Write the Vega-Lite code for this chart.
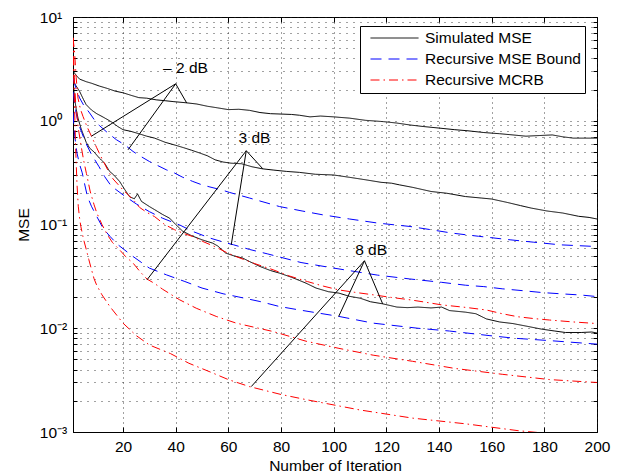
{
"$schema": "https://vega.github.io/schema/vega-lite/v6.json",
"width": 524, "height": 415,
"autosize": "none",
"padding": {"left": 73, "top": 17, "right": 28, "bottom": 44},
"background": "white",
"config": {
  "font": "Liberation Sans",
  "view": {"stroke": "#000", "strokeWidth": 1},
  "axis": {"domainColor": "#000", "tickColor": "#000", "tickWidth": 1, "labelColor": "#000", "labelFont": "Liberation Sans", "labelFontSize": 15.5, "titleFont": "Liberation Sans", "titleFontSize": 15.5, "titleFontWeight": "normal", "titleColor": "#000", "labelOverlap": false, "labelFlush": false, "gridColor": "#222", "gridOpacity": 0.85, "gridWidth": 1},
  "legend": {"symbolType": "stroke", "symbolSize": 2304, "symbolStrokeWidth": 1, "clipHeight": 16, "rowPadding": 4, "padding": 4, "symbolOffset": 6, "labelOffset": 6, "labelFontSize": 15.5, "labelFont": "Liberation Sans", "labelColor": "#000", "strokeColor": "#000", "fillColor": "#fff", "labelLimit": 400}
},
"datasets": {
"curves": [
{"s":"Simulated MSE","g":"-2","x":1,"y":3.02},{"s":"Simulated MSE","g":"-2","x":2,"y":2.78},{"s":"Simulated MSE","g":"-2","x":3.5,"y":2.52},{"s":"Simulated MSE","g":"-2","x":6,"y":2.38},{"s":"Simulated MSE","g":"-2","x":8,"y":2.3},{"s":"Simulated MSE","g":"-2","x":11,"y":2.16},{"s":"Simulated MSE","g":"-2","x":14,"y":2.05},{"s":"Simulated MSE","g":"-2","x":17,"y":1.93},{"s":"Simulated MSE","g":"-2","x":20,"y":1.86},{"s":"Simulated MSE","g":"-2","x":23,"y":1.76},{"s":"Simulated MSE","g":"-2","x":26,"y":1.67},{"s":"Simulated MSE","g":"-2","x":29,"y":1.65},{"s":"Simulated MSE","g":"-2","x":32.6,"y":1.59},{"s":"Simulated MSE","g":"-2","x":36,"y":1.56},{"s":"Simulated MSE","g":"-2","x":39,"y":1.53},{"s":"Simulated MSE","g":"-2","x":44,"y":1.49},{"s":"Simulated MSE","g":"-2","x":48,"y":1.45},{"s":"Simulated MSE","g":"-2","x":52,"y":1.38},{"s":"Simulated MSE","g":"-2","x":56,"y":1.33},{"s":"Simulated MSE","g":"-2","x":60,"y":1.28},{"s":"Simulated MSE","g":"-2","x":64,"y":1.29},{"s":"Simulated MSE","g":"-2","x":68,"y":1.26},{"s":"Simulated MSE","g":"-2","x":72,"y":1.2},{"s":"Simulated MSE","g":"-2","x":76,"y":1.17},{"s":"Simulated MSE","g":"-2","x":80,"y":1.16},{"s":"Simulated MSE","g":"-2","x":84,"y":1.15},{"s":"Simulated MSE","g":"-2","x":87,"y":1.13},{"s":"Simulated MSE","g":"-2","x":91,"y":1.09},{"s":"Simulated MSE","g":"-2","x":95,"y":1.11},{"s":"Simulated MSE","g":"-2","x":100,"y":1.09},{"s":"Simulated MSE","g":"-2","x":106,"y":1.06},{"s":"Simulated MSE","g":"-2","x":112,"y":1.01},{"s":"Simulated MSE","g":"-2","x":119,"y":0.98},{"s":"Simulated MSE","g":"-2","x":124,"y":0.95},{"s":"Simulated MSE","g":"-2","x":129,"y":0.91},{"s":"Simulated MSE","g":"-2","x":134,"y":0.88},{"s":"Simulated MSE","g":"-2","x":140,"y":0.85},{"s":"Simulated MSE","g":"-2","x":146,"y":0.82},{"s":"Simulated MSE","g":"-2","x":151,"y":0.8},{"s":"Simulated MSE","g":"-2","x":157,"y":0.77},{"s":"Simulated MSE","g":"-2","x":163,"y":0.75},{"s":"Simulated MSE","g":"-2","x":168,"y":0.73},{"s":"Simulated MSE","g":"-2","x":173,"y":0.71},{"s":"Simulated MSE","g":"-2","x":178,"y":0.72},{"s":"Simulated MSE","g":"-2","x":183,"y":0.73},{"s":"Simulated MSE","g":"-2","x":187,"y":0.7},{"s":"Simulated MSE","g":"-2","x":191,"y":0.68},{"s":"Simulated MSE","g":"-2","x":196,"y":0.68},{"s":"Simulated MSE","g":"-2","x":200,"y":0.68},
{"s":"Simulated MSE","g":"3","x":1,"y":2.48},{"s":"Simulated MSE","g":"3","x":2,"y":2.2},{"s":"Simulated MSE","g":"3","x":3.5,"y":1.92},{"s":"Simulated MSE","g":"3","x":5,"y":1.6},{"s":"Simulated MSE","g":"3","x":6,"y":1.43},{"s":"Simulated MSE","g":"3","x":8,"y":1.27},{"s":"Simulated MSE","g":"3","x":10,"y":1.17},{"s":"Simulated MSE","g":"3","x":12,"y":1.1},{"s":"Simulated MSE","g":"3","x":14,"y":1.03},{"s":"Simulated MSE","g":"3","x":16,"y":0.96},{"s":"Simulated MSE","g":"3","x":18,"y":0.88},{"s":"Simulated MSE","g":"3","x":20,"y":0.82},{"s":"Simulated MSE","g":"3","x":23,"y":0.79},{"s":"Simulated MSE","g":"3","x":26,"y":0.75},{"s":"Simulated MSE","g":"3","x":29,"y":0.71},{"s":"Simulated MSE","g":"3","x":32,"y":0.68},{"s":"Simulated MSE","g":"3","x":36,"y":0.62},{"s":"Simulated MSE","g":"3","x":40,"y":0.58},{"s":"Simulated MSE","g":"3","x":43,"y":0.55},{"s":"Simulated MSE","g":"3","x":46,"y":0.52},{"s":"Simulated MSE","g":"3","x":49,"y":0.49},{"s":"Simulated MSE","g":"3","x":52,"y":0.46},{"s":"Simulated MSE","g":"3","x":55,"y":0.42},{"s":"Simulated MSE","g":"3","x":58,"y":0.4},{"s":"Simulated MSE","g":"3","x":61,"y":0.39},{"s":"Simulated MSE","g":"3","x":65,"y":0.385},{"s":"Simulated MSE","g":"3","x":69,"y":0.36},{"s":"Simulated MSE","g":"3","x":73,"y":0.344},{"s":"Simulated MSE","g":"3","x":77,"y":0.335},{"s":"Simulated MSE","g":"3","x":82,"y":0.325},{"s":"Simulated MSE","g":"3","x":87,"y":0.318},{"s":"Simulated MSE","g":"3","x":93,"y":0.305},{"s":"Simulated MSE","g":"3","x":100,"y":0.3},{"s":"Simulated MSE","g":"3","x":106,"y":0.285},{"s":"Simulated MSE","g":"3","x":112,"y":0.27},{"s":"Simulated MSE","g":"3","x":118,"y":0.255},{"s":"Simulated MSE","g":"3","x":122,"y":0.25},{"s":"Simulated MSE","g":"3","x":125,"y":0.241},{"s":"Simulated MSE","g":"3","x":130,"y":0.228},{"s":"Simulated MSE","g":"3","x":137,"y":0.208},{"s":"Simulated MSE","g":"3","x":143,"y":0.2},{"s":"Simulated MSE","g":"3","x":150,"y":0.186},{"s":"Simulated MSE","g":"3","x":156,"y":0.18},{"s":"Simulated MSE","g":"3","x":160,"y":0.176},{"s":"Simulated MSE","g":"3","x":166,"y":0.163},{"s":"Simulated MSE","g":"3","x":171,"y":0.152},{"s":"Simulated MSE","g":"3","x":175,"y":0.144},{"s":"Simulated MSE","g":"3","x":181,"y":0.135},{"s":"Simulated MSE","g":"3","x":187,"y":0.129},{"s":"Simulated MSE","g":"3","x":193,"y":0.12},{"s":"Simulated MSE","g":"3","x":197,"y":0.117},{"s":"Simulated MSE","g":"3","x":200,"y":0.113},
{"s":"Simulated MSE","g":"8","x":1,"y":2.39},{"s":"Simulated MSE","g":"8","x":1.6,"y":1.66},{"s":"Simulated MSE","g":"8","x":2.2,"y":1.3},{"s":"Simulated MSE","g":"8","x":2.9,"y":1.06},{"s":"Simulated MSE","g":"8","x":4,"y":0.85},{"s":"Simulated MSE","g":"8","x":4.8,"y":0.75},{"s":"Simulated MSE","g":"8","x":6,"y":0.62},{"s":"Simulated MSE","g":"8","x":7.3,"y":0.546},{"s":"Simulated MSE","g":"8","x":9,"y":0.5},{"s":"Simulated MSE","g":"8","x":11,"y":0.437},{"s":"Simulated MSE","g":"8","x":13,"y":0.39},{"s":"Simulated MSE","g":"8","x":14.9,"y":0.325},{"s":"Simulated MSE","g":"8","x":16.5,"y":0.3},{"s":"Simulated MSE","g":"8","x":18.7,"y":0.26},{"s":"Simulated MSE","g":"8","x":20.5,"y":0.22},{"s":"Simulated MSE","g":"8","x":22.5,"y":0.185},{"s":"Simulated MSE","g":"8","x":24.3,"y":0.177},{"s":"Simulated MSE","g":"8","x":25.5,"y":0.197},{"s":"Simulated MSE","g":"8","x":27,"y":0.167},{"s":"Simulated MSE","g":"8","x":30,"y":0.149},{"s":"Simulated MSE","g":"8","x":32,"y":0.139},{"s":"Simulated MSE","g":"8","x":35,"y":0.125},{"s":"Simulated MSE","g":"8","x":37.7,"y":0.115},{"s":"Simulated MSE","g":"8","x":40,"y":0.1},{"s":"Simulated MSE","g":"8","x":42.7,"y":0.086},{"s":"Simulated MSE","g":"8","x":46,"y":0.078},{"s":"Simulated MSE","g":"8","x":50,"y":0.0712},{"s":"Simulated MSE","g":"8","x":54,"y":0.0662},{"s":"Simulated MSE","g":"8","x":56,"y":0.062},{"s":"Simulated MSE","g":"8","x":59,"y":0.053},{"s":"Simulated MSE","g":"8","x":62,"y":0.05},{"s":"Simulated MSE","g":"8","x":65.5,"y":0.0474},{"s":"Simulated MSE","g":"8","x":68,"y":0.044},{"s":"Simulated MSE","g":"8","x":72,"y":0.0394},{"s":"Simulated MSE","g":"8","x":76,"y":0.036},{"s":"Simulated MSE","g":"8","x":79.4,"y":0.034},{"s":"Simulated MSE","g":"8","x":84,"y":0.031},{"s":"Simulated MSE","g":"8","x":89.5,"y":0.0272},{"s":"Simulated MSE","g":"8","x":93.3,"y":0.0244},{"s":"Simulated MSE","g":"8","x":98,"y":0.0225},{"s":"Simulated MSE","g":"8","x":102,"y":0.0218},{"s":"Simulated MSE","g":"8","x":106,"y":0.0203},{"s":"Simulated MSE","g":"8","x":110,"y":0.0195},{"s":"Simulated MSE","g":"8","x":114,"y":0.018},{"s":"Simulated MSE","g":"8","x":118.6,"y":0.0172},{"s":"Simulated MSE","g":"8","x":124,"y":0.016},{"s":"Simulated MSE","g":"8","x":128,"y":0.0158},{"s":"Simulated MSE","g":"8","x":132,"y":0.016},{"s":"Simulated MSE","g":"8","x":137,"y":0.0157},{"s":"Simulated MSE","g":"8","x":141,"y":0.016},{"s":"Simulated MSE","g":"8","x":144,"y":0.0148},{"s":"Simulated MSE","g":"8","x":150,"y":0.0143},{"s":"Simulated MSE","g":"8","x":154,"y":0.0138},{"s":"Simulated MSE","g":"8","x":158,"y":0.0123},{"s":"Simulated MSE","g":"8","x":163,"y":0.0115},{"s":"Simulated MSE","g":"8","x":168,"y":0.0111},{"s":"Simulated MSE","g":"8","x":173,"y":0.0105},{"s":"Simulated MSE","g":"8","x":179,"y":0.0098},{"s":"Simulated MSE","g":"8","x":184,"y":0.0094},{"s":"Simulated MSE","g":"8","x":188,"y":0.0091},{"s":"Simulated MSE","g":"8","x":194,"y":0.0091},{"s":"Simulated MSE","g":"8","x":198,"y":0.0092},{"s":"Simulated MSE","g":"8","x":200,"y":0.009},
{"s":"Recursive MSE Bound","g":"-2","x":1,"y":2.58},{"s":"Recursive MSE Bound","g":"-2","x":2,"y":2.1},{"s":"Recursive MSE Bound","g":"-2","x":3.5,"y":1.66},{"s":"Recursive MSE Bound","g":"-2","x":5,"y":1.42},{"s":"Recursive MSE Bound","g":"-2","x":7.3,"y":1.19},{"s":"Recursive MSE Bound","g":"-2","x":9,"y":1.03},{"s":"Recursive MSE Bound","g":"-2","x":11,"y":0.9},{"s":"Recursive MSE Bound","g":"-2","x":14.3,"y":0.76},{"s":"Recursive MSE Bound","g":"-2","x":17.5,"y":0.656},{"s":"Recursive MSE Bound","g":"-2","x":20.6,"y":0.587},{"s":"Recursive MSE Bound","g":"-2","x":23.8,"y":0.506},{"s":"Recursive MSE Bound","g":"-2","x":26.3,"y":0.46},{"s":"Recursive MSE Bound","g":"-2","x":30,"y":0.405},{"s":"Recursive MSE Bound","g":"-2","x":32.6,"y":0.376},{"s":"Recursive MSE Bound","g":"-2","x":36.4,"y":0.337},{"s":"Recursive MSE Bound","g":"-2","x":39.6,"y":0.313},{"s":"Recursive MSE Bound","g":"-2","x":42.7,"y":0.285},{"s":"Recursive MSE Bound","g":"-2","x":46.5,"y":0.26},{"s":"Recursive MSE Bound","g":"-2","x":50,"y":0.241},{"s":"Recursive MSE Bound","g":"-2","x":53,"y":0.23},{"s":"Recursive MSE Bound","g":"-2","x":57.3,"y":0.216},{"s":"Recursive MSE Bound","g":"-2","x":60.4,"y":0.204},{"s":"Recursive MSE Bound","g":"-2","x":68,"y":0.18},{"s":"Recursive MSE Bound","g":"-2","x":79.4,"y":0.149},{"s":"Recursive MSE Bound","g":"-2","x":88,"y":0.135},{"s":"Recursive MSE Bound","g":"-2","x":95.8,"y":0.124},{"s":"Recursive MSE Bound","g":"-2","x":106,"y":0.113},{"s":"Recursive MSE Bound","g":"-2","x":117,"y":0.103},{"s":"Recursive MSE Bound","g":"-2","x":129,"y":0.0957},{"s":"Recursive MSE Bound","g":"-2","x":137,"y":0.089},{"s":"Recursive MSE Bound","g":"-2","x":145,"y":0.0826},{"s":"Recursive MSE Bound","g":"-2","x":155,"y":0.077},{"s":"Recursive MSE Bound","g":"-2","x":167,"y":0.0712},{"s":"Recursive MSE Bound","g":"-2","x":176,"y":0.0675},{"s":"Recursive MSE Bound","g":"-2","x":186,"y":0.0637},{"s":"Recursive MSE Bound","g":"-2","x":193,"y":0.0625},{"s":"Recursive MSE Bound","g":"-2","x":200,"y":0.0613},
{"s":"Recursive MSE Bound","g":"3","x":1,"y":1.9},{"s":"Recursive MSE Bound","g":"3","x":2,"y":1.25},{"s":"Recursive MSE Bound","g":"3","x":3,"y":0.95},{"s":"Recursive MSE Bound","g":"3","x":4.3,"y":0.77},{"s":"Recursive MSE Bound","g":"3","x":6,"y":0.6},{"s":"Recursive MSE Bound","g":"3","x":7.9,"y":0.48},{"s":"Recursive MSE Bound","g":"3","x":10.9,"y":0.36},{"s":"Recursive MSE Bound","g":"3","x":13,"y":0.29},{"s":"Recursive MSE Bound","g":"3","x":15.5,"y":0.235},{"s":"Recursive MSE Bound","g":"3","x":20,"y":0.193},{"s":"Recursive MSE Bound","g":"3","x":25,"y":0.158},{"s":"Recursive MSE Bound","g":"3","x":30,"y":0.133},{"s":"Recursive MSE Bound","g":"3","x":35,"y":0.115},{"s":"Recursive MSE Bound","g":"3","x":41.5,"y":0.099},{"s":"Recursive MSE Bound","g":"3","x":46.5,"y":0.0857},{"s":"Recursive MSE Bound","g":"3","x":53,"y":0.074},{"s":"Recursive MSE Bound","g":"3","x":59.6,"y":0.066},{"s":"Recursive MSE Bound","g":"3","x":62,"y":0.0637},{"s":"Recursive MSE Bound","g":"3","x":68,"y":0.0575},{"s":"Recursive MSE Bound","g":"3","x":75,"y":0.052},{"s":"Recursive MSE Bound","g":"3","x":87.6,"y":0.043},{"s":"Recursive MSE Bound","g":"3","x":100,"y":0.038},{"s":"Recursive MSE Bound","g":"3","x":116.7,"y":0.0325},{"s":"Recursive MSE Bound","g":"3","x":128.7,"y":0.0299},{"s":"Recursive MSE Bound","g":"3","x":141,"y":0.0277},{"s":"Recursive MSE Bound","g":"3","x":150,"y":0.026},{"s":"Recursive MSE Bound","g":"3","x":157,"y":0.0252},{"s":"Recursive MSE Bound","g":"3","x":164,"y":0.024},{"s":"Recursive MSE Bound","g":"3","x":172,"y":0.023},{"s":"Recursive MSE Bound","g":"3","x":179,"y":0.0221},{"s":"Recursive MSE Bound","g":"3","x":186,"y":0.0215},{"s":"Recursive MSE Bound","g":"3","x":194,"y":0.0209},{"s":"Recursive MSE Bound","g":"3","x":200,"y":0.0202},
{"s":"Recursive MSE Bound","g":"8","x":1,"y":1.2},{"s":"Recursive MSE Bound","g":"8","x":1.6,"y":0.73},{"s":"Recursive MSE Bound","g":"8","x":2.5,"y":0.49},{"s":"Recursive MSE Bound","g":"8","x":3.5,"y":0.38},{"s":"Recursive MSE Bound","g":"8","x":4.5,"y":0.315},{"s":"Recursive MSE Bound","g":"8","x":5.5,"y":0.24},{"s":"Recursive MSE Bound","g":"8","x":6.5,"y":0.185},{"s":"Recursive MSE Bound","g":"8","x":8,"y":0.15},{"s":"Recursive MSE Bound","g":"8","x":9.7,"y":0.124},{"s":"Recursive MSE Bound","g":"8","x":12.4,"y":0.092},{"s":"Recursive MSE Bound","g":"8","x":15,"y":0.077},{"s":"Recursive MSE Bound","g":"8","x":18,"y":0.064},{"s":"Recursive MSE Bound","g":"8","x":23.4,"y":0.05},{"s":"Recursive MSE Bound","g":"8","x":30,"y":0.038},{"s":"Recursive MSE Bound","g":"8","x":36.5,"y":0.0327},{"s":"Recursive MSE Bound","g":"8","x":43.5,"y":0.0282},{"s":"Recursive MSE Bound","g":"8","x":50,"y":0.0244},{"s":"Recursive MSE Bound","g":"8","x":58,"y":0.0215},{"s":"Recursive MSE Bound","g":"8","x":64,"y":0.02},{"s":"Recursive MSE Bound","g":"8","x":72,"y":0.0181},{"s":"Recursive MSE Bound","g":"8","x":79.4,"y":0.0162},{"s":"Recursive MSE Bound","g":"8","x":87,"y":0.015},{"s":"Recursive MSE Bound","g":"8","x":102,"y":0.013},{"s":"Recursive MSE Bound","g":"8","x":115,"y":0.0112},{"s":"Recursive MSE Bound","g":"8","x":132,"y":0.01},{"s":"Recursive MSE Bound","g":"8","x":144,"y":0.0094},{"s":"Recursive MSE Bound","g":"8","x":159,"y":0.0085},{"s":"Recursive MSE Bound","g":"8","x":169,"y":0.008},{"s":"Recursive MSE Bound","g":"8","x":182,"y":0.0076},{"s":"Recursive MSE Bound","g":"8","x":200,"y":0.00703},
{"s":"Recursive MCRB","g":"-2","x":1,"y":6.3},{"s":"Recursive MCRB","g":"-2","x":1.6,"y":4.6},{"s":"Recursive MCRB","g":"-2","x":2.2,"y":2.6},{"s":"Recursive MCRB","g":"-2","x":2.9,"y":1.65},{"s":"Recursive MCRB","g":"-2","x":3.8,"y":1.3},{"s":"Recursive MCRB","g":"-2","x":4.8,"y":1.1},{"s":"Recursive MCRB","g":"-2","x":6.3,"y":0.88},{"s":"Recursive MCRB","g":"-2","x":8,"y":0.71},{"s":"Recursive MCRB","g":"-2","x":10,"y":0.55},{"s":"Recursive MCRB","g":"-2","x":12,"y":0.43},{"s":"Recursive MCRB","g":"-2","x":14.9,"y":0.31},{"s":"Recursive MCRB","g":"-2","x":16.2,"y":0.275},{"s":"Recursive MCRB","g":"-2","x":18,"y":0.245},{"s":"Recursive MCRB","g":"-2","x":20,"y":0.215},{"s":"Recursive MCRB","g":"-2","x":22,"y":0.193},{"s":"Recursive MCRB","g":"-2","x":24.4,"y":0.167},{"s":"Recursive MCRB","g":"-2","x":26.3,"y":0.146},{"s":"Recursive MCRB","g":"-2","x":29,"y":0.131},{"s":"Recursive MCRB","g":"-2","x":32,"y":0.119},{"s":"Recursive MCRB","g":"-2","x":35.8,"y":0.1},{"s":"Recursive MCRB","g":"-2","x":39.6,"y":0.089},{"s":"Recursive MCRB","g":"-2","x":43,"y":0.082},{"s":"Recursive MCRB","g":"-2","x":46.5,"y":0.0766},{"s":"Recursive MCRB","g":"-2","x":50.3,"y":0.0686},{"s":"Recursive MCRB","g":"-2","x":54.8,"y":0.0613},{"s":"Recursive MCRB","g":"-2","x":59.8,"y":0.053},{"s":"Recursive MCRB","g":"-2","x":63,"y":0.049},{"s":"Recursive MCRB","g":"-2","x":70,"y":0.042},{"s":"Recursive MCRB","g":"-2","x":77,"y":0.0366},{"s":"Recursive MCRB","g":"-2","x":83,"y":0.032},{"s":"Recursive MCRB","g":"-2","x":90,"y":0.0282},{"s":"Recursive MCRB","g":"-2","x":96,"y":0.0255},{"s":"Recursive MCRB","g":"-2","x":102,"y":0.0234},{"s":"Recursive MCRB","g":"-2","x":108,"y":0.0222},{"s":"Recursive MCRB","g":"-2","x":115,"y":0.021},{"s":"Recursive MCRB","g":"-2","x":122,"y":0.0198},{"s":"Recursive MCRB","g":"-2","x":129,"y":0.0188},{"s":"Recursive MCRB","g":"-2","x":135,"y":0.0178},{"s":"Recursive MCRB","g":"-2","x":141,"y":0.0168},{"s":"Recursive MCRB","g":"-2","x":150,"y":0.0159},{"s":"Recursive MCRB","g":"-2","x":158,"y":0.015},{"s":"Recursive MCRB","g":"-2","x":164,"y":0.0138},{"s":"Recursive MCRB","g":"-2","x":170,"y":0.0129},{"s":"Recursive MCRB","g":"-2","x":176,"y":0.0124},{"s":"Recursive MCRB","g":"-2","x":182,"y":0.012},{"s":"Recursive MCRB","g":"-2","x":191,"y":0.0115},{"s":"Recursive MCRB","g":"-2","x":200,"y":0.0111},
{"s":"Recursive MCRB","g":"3","x":1,"y":6.3},{"s":"Recursive MCRB","g":"3","x":1.5,"y":2.6},{"s":"Recursive MCRB","g":"3","x":2,"y":1.5},{"s":"Recursive MCRB","g":"3","x":3,"y":0.85},{"s":"Recursive MCRB","g":"3","x":4.2,"y":0.55},{"s":"Recursive MCRB","g":"3","x":5,"y":0.42},{"s":"Recursive MCRB","g":"3","x":6.1,"y":0.31},{"s":"Recursive MCRB","g":"3","x":7.5,"y":0.21},{"s":"Recursive MCRB","g":"3","x":9,"y":0.155},{"s":"Recursive MCRB","g":"3","x":10,"y":0.13},{"s":"Recursive MCRB","g":"3","x":12,"y":0.1},{"s":"Recursive MCRB","g":"3","x":14,"y":0.08},{"s":"Recursive MCRB","g":"3","x":16,"y":0.067},{"s":"Recursive MCRB","g":"3","x":18.7,"y":0.057},{"s":"Recursive MCRB","g":"3","x":21,"y":0.049},{"s":"Recursive MCRB","g":"3","x":23.8,"y":0.0425},{"s":"Recursive MCRB","g":"3","x":26.5,"y":0.035},{"s":"Recursive MCRB","g":"3","x":29.1,"y":0.0298},{"s":"Recursive MCRB","g":"3","x":32,"y":0.027},{"s":"Recursive MCRB","g":"3","x":35,"y":0.0238},{"s":"Recursive MCRB","g":"3","x":41.5,"y":0.0188},{"s":"Recursive MCRB","g":"3","x":47.8,"y":0.0156},{"s":"Recursive MCRB","g":"3","x":55.4,"y":0.013},{"s":"Recursive MCRB","g":"3","x":63,"y":0.0112},{"s":"Recursive MCRB","g":"3","x":70,"y":0.0102},{"s":"Recursive MCRB","g":"3","x":77,"y":0.0093},{"s":"Recursive MCRB","g":"3","x":89.5,"y":0.0075},{"s":"Recursive MCRB","g":"3","x":102,"y":0.0064},{"s":"Recursive MCRB","g":"3","x":115,"y":0.0055},{"s":"Recursive MCRB","g":"3","x":130,"y":0.0048},{"s":"Recursive MCRB","g":"3","x":146,"y":0.0041},{"s":"Recursive MCRB","g":"3","x":164,"y":0.0036},{"s":"Recursive MCRB","g":"3","x":182,"y":0.0032},{"s":"Recursive MCRB","g":"3","x":200,"y":0.003},
{"s":"Recursive MCRB","g":"8","x":1,"y":6.3},{"s":"Recursive MCRB","g":"8","x":1.5,"y":1.6},{"s":"Recursive MCRB","g":"8","x":2,"y":0.55},{"s":"Recursive MCRB","g":"8","x":2.5,"y":0.25},{"s":"Recursive MCRB","g":"8","x":3,"y":0.15},{"s":"Recursive MCRB","g":"8","x":3.5,"y":0.115},{"s":"Recursive MCRB","g":"8","x":4,"y":0.095},{"s":"Recursive MCRB","g":"8","x":5,"y":0.072},{"s":"Recursive MCRB","g":"8","x":6,"y":0.058},{"s":"Recursive MCRB","g":"8","x":7,"y":0.046},{"s":"Recursive MCRB","g":"8","x":8,"y":0.037},{"s":"Recursive MCRB","g":"8","x":9,"y":0.03},{"s":"Recursive MCRB","g":"8","x":10,"y":0.026},{"s":"Recursive MCRB","g":"8","x":12,"y":0.021},{"s":"Recursive MCRB","g":"8","x":15,"y":0.0162},{"s":"Recursive MCRB","g":"8","x":20,"y":0.0112},{"s":"Recursive MCRB","g":"8","x":25,"y":0.0085},{"s":"Recursive MCRB","g":"8","x":30,"y":0.0069},{"s":"Recursive MCRB","g":"8","x":38,"y":0.0057},{"s":"Recursive MCRB","g":"8","x":45,"y":0.0046},{"s":"Recursive MCRB","g":"8","x":53,"y":0.0038},{"s":"Recursive MCRB","g":"8","x":60,"y":0.0032},{"s":"Recursive MCRB","g":"8","x":68,"y":0.00274},{"s":"Recursive MCRB","g":"8","x":80,"y":0.0023},{"s":"Recursive MCRB","g":"8","x":90,"y":0.00204},{"s":"Recursive MCRB","g":"8","x":110,"y":0.00163},{"s":"Recursive MCRB","g":"8","x":130,"y":0.00136},{"s":"Recursive MCRB","g":"8","x":150,"y":0.0012},{"s":"Recursive MCRB","g":"8","x":170,"y":0.00103},{"s":"Recursive MCRB","g":"8","x":185,"y":0.00095},{"s":"Recursive MCRB","g":"8","x":200,"y":0.00088}
],
"ann": [
{"a":"-2","x1":40,"y1":2.27,"x2":44.2,"y2":1.48},{"a":"-2","x1":40,"y1":2.27,"x2":8,"y2":0.71},{"a":"-2","x1":40,"y1":2.27,"x2":21.9,"y2":0.525},
{"a":"3","x1":66.8,"y1":0.514,"x2":73.1,"y2":0.344},{"a":"3","x1":66.8,"y1":0.514,"x2":61.1,"y2":0.0637},{"a":"3","x1":66.8,"y1":0.514,"x2":29.1,"y2":0.0293},
{"a":"8","x1":111.7,"y1":0.0447,"x2":118.6,"y2":0.0172},{"a":"8","x1":111.7,"y1":0.0447,"x2":101.9,"y2":0.013},{"a":"8","x1":111.7,"y1":0.0447,"x2":68.7,"y2":0.00274}
],
"labels": [
{"t":"– 2 dB","x":43.7,"y":2.88},{"t":"3 dB","x":69.9,"y":0.61},{"t":"8 dB","x":114.2,"y":0.0511}
]
},
"layer": [
{
 "data": {"name": "curves"},
 "mark": {"type": "line", "strokeWidth": 1, "clip": true},
 "encoding": {
  "x": {"field": "x", "type": "quantitative", "scale": {"domain": [1, 200], "nice": false, "zero": false},
        "axis": {"orient": "bottom", "values": [20,40,60,80,100,120,140,160,180,200], "grid": true, "gridDash": [1,4], "tickSize": -5, "labelPadding": 12, "title": "Number of Iteration", "titleY": 38, "titleBaseline": "alphabetic"}},
  "y": {"field": "y", "type": "quantitative", "scale": {"type": "log", "domain": [0.001, 10], "nice": false},
        "axis": {"orient": "left", "values": [0.001,0.002,0.003,0.004,0.005,0.006,0.007,0.008,0.009,0.01,0.02,0.03,0.04,0.05,0.06,0.07,0.08,0.09,0.1,0.2,0.3,0.4,0.5,0.6,0.7,0.8,0.9,1,2,3,4,5,6,7,8,9,10],
                 "grid": true, "gridDash": [1,6], "tickSize": -4, "labelAlign": "left", "labelBaseline": "middle", "labelPadding": 37.7,
                 "labelExpr": "datum.value == 10 ? '10¹' : datum.value == 1 ? '10⁰' : datum.value == 0.1 ? '10⁻¹' : datum.value == 0.01 ? '10⁻²' : datum.value == 0.001 ? '10⁻³' : ''",
                 "title": "MSE", "titleX": -45, "titleY": 207.5, "titleAngle": -90, "titleBaseline": "alphabetic", "titleAlign": "center"}},
  "color": {"field": "s", "type": "nominal", "scale": {"domain": ["Simulated MSE", "Recursive MSE Bound", "Recursive MCRB"], "range": ["#000000", "#0000ff", "#ff0000"]},
            "legend": {"title": null, "orient": "none", "legendX": 287, "legendY": 9}},
  "strokeDash": {"field": "s", "type": "nominal", "scale": {"domain": ["Simulated MSE", "Recursive MSE Bound", "Recursive MCRB"], "range": [[1,0],[11,7],[9,4,1.5,4]]},
            "legend": {"title": null, "orient": "none", "legendX": 287, "legendY": 9}},
  "detail": {"field": "g", "type": "nominal"},
  "order": {"field": "x", "type": "quantitative"}
 }
},
{
 "data": {"name": "ann"},
 "mark": {"type": "rule", "color": "#000", "strokeWidth": 1},
 "encoding": {
  "x": {"field": "x1", "type": "quantitative", "scale": {"domain": [1, 200], "nice": false, "zero": false},
        "axis": {"orient": "top", "values": [20,40,60,80,100,120,140,160,180,200], "labels": false, "grid": false, "domain": false, "tickSize": -5, "title": null}},
  "y": {"field": "y1", "type": "quantitative", "scale": {"type": "log", "domain": [0.001, 10], "nice": false},
        "axis": {"orient": "right", "values": [0.001,0.002,0.003,0.004,0.005,0.006,0.007,0.008,0.009,0.01,0.02,0.03,0.04,0.05,0.06,0.07,0.08,0.09,0.1,0.2,0.3,0.4,0.5,0.6,0.7,0.8,0.9,1,2,3,4,5,6,7,8,9,10], "labels": false, "grid": false, "domain": false, "tickSize": -4, "title": null}},
  "x2": {"field": "x2"},
  "y2": {"field": "y2"}
 }
},
{
 "data": {"name": "labels"},
 "mark": {"type": "text", "font": "Liberation Sans", "fontSize": 15.5, "baseline": "alphabetic", "align": "center", "color": "#000"},
 "encoding": {
  "x": {"field": "x", "type": "quantitative", "axis": null},
  "y": {"field": "y", "type": "quantitative", "scale": {"type": "log"}, "axis": null},
  "text": {"field": "t"}
 }
}
],
"resolve": {"axis": {"x": "independent", "y": "independent"}}
}
